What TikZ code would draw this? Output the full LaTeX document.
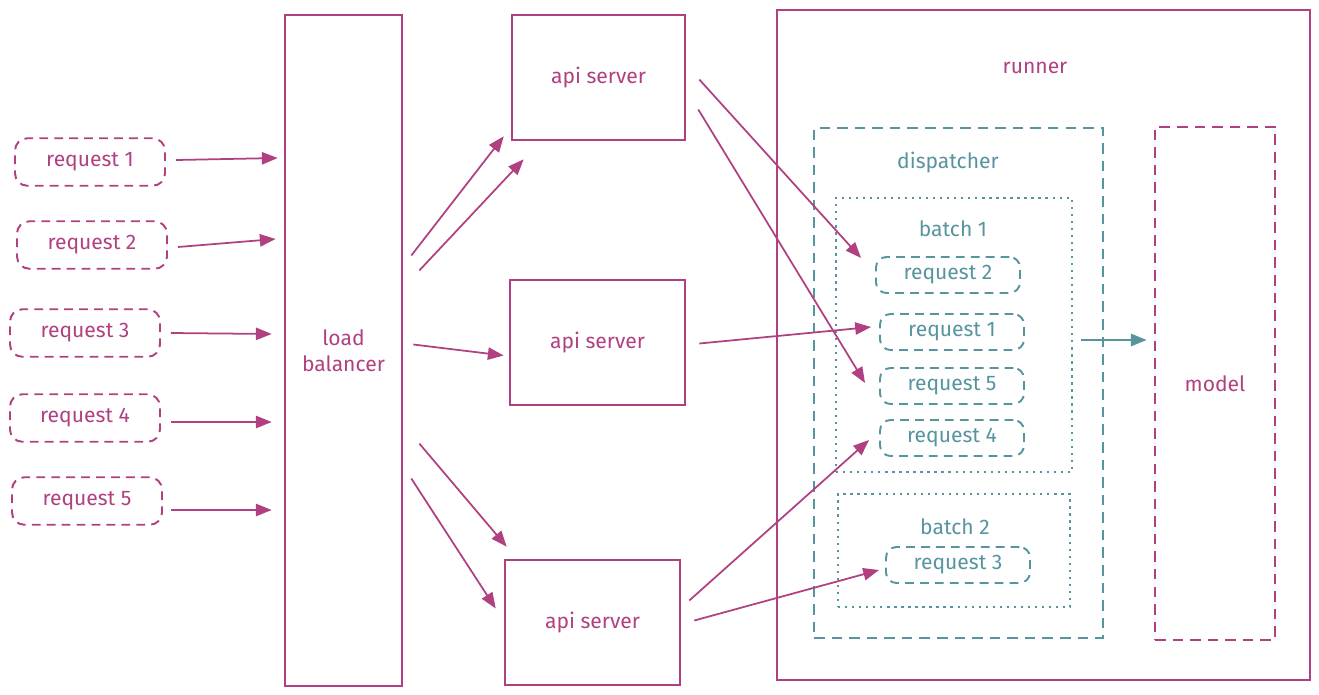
\documentclass[tikz,border=0pt]{standalone}
\usepackage{fontspec}
\setmainfont{Fira Sans}
\usetikzlibrary{calc, positioning, arrows.meta}
\definecolor{pinkline}{RGB}{176,64,128}
\definecolor{tealline}{RGB}{86,148,158}
\tikzset{
  every node/.style={font=\fontsize{12}{15}\selectfont},
  box/.style={draw=pinkline, line width=1.5pt, text=pinkline},
  reqbox/.style={draw=pinkline, line width=1.1pt, dash pattern=on 5pt off 3.5pt, rounded corners=7pt,
    text=pinkline, minimum width=3cm, minimum height=0.95cm},
  treqbox/.style={draw=tealline, line width=1.1pt, dash pattern=on 5pt off 3.5pt, rounded corners=6pt,
    text=tealline, minimum width=2.88cm, minimum height=0.72cm},
  batchbox/.style={draw=tealline, line width=1.4pt, dash pattern=on 1.3pt off 2.7pt},
  arr/.style={draw=pinkline, line width=1pt, -{Triangle[length=9pt,width=7pt]}},
  tarr/.style={draw=tealline, line width=1pt, -{Triangle[length=9pt,width=7pt]}},
}

\begin{document}
\begin{tikzpicture}[x=0.02cm, y=-0.02cm]
  \useasboundingbox (0,0) rectangle (1319,694);

  % incoming requests
  \node[reqbox] (r1) at (90,162) {request 1};
  \node[reqbox] (r2) at (92,245) {request 2};
  \node[reqbox] (r3) at (85,333) {request 3};
  \node[reqbox] (r4) at (85,418) {request 4};
  \node[reqbox] (r5) at (87,501) {request 5};

  \node[box, minimum width=2.34cm, minimum height=13.42cm, align=center] (lb) at (343.5,350.5) {load\\balancer};

  % api servers
  \node[box, minimum width=3.46cm, minimum height=2.5cm] (a1) at (598.5,77.5) {api server};
  \node[box, minimum width=3.5cm, minimum height=2.5cm] (a2) at (597.5,342.5) {api server};
  \node[box, minimum width=3.5cm, minimum height=2.5cm] (a3) at (592.5,622.5) {api server};

  % runner
  \node[box, minimum width=10.66cm, minimum height=13.4cm] (run) at (1043.5,345) {};
  \node[text=pinkline] (runtxt) at (1035,68) {runner};
  \node[draw=tealline, line width=1.5pt, dash pattern=on 6pt off 4pt, minimum width=5.78cm, minimum height=10.2cm] (disp) at (958.5,383) {};
  \node[text=tealline] (disptxt) at (948,163) {dispatcher};
  \node[batchbox, minimum width=4.72cm, minimum height=5.48cm] (b1) at (954,335) {};
  \node[text=tealline] (b1txt) at (953,229) {batch 1};
  \node[batchbox, minimum width=4.64cm, minimum height=2.26cm] (b2) at (954,550.5) {};
  \node[text=tealline] (b2txt) at (955,527) {batch 2};
  \node[treqbox] (t2) at (948,275) {request 2};
  \node[treqbox] (t1) at (952,332) {request 1};
  \node[treqbox] (t5) at (952,386) {request 5};
  \node[treqbox] (t4) at (952,438) {request 4};
  \node[treqbox] (t3) at (958,565) {request 3};
  \node[draw=pinkline, line width=1.5pt, dash pattern=on 6pt off 4pt, text=pinkline,
    minimum width=2.4cm, minimum height=10.26cm] (model) at (1215,383.5) {model};

  % requests into the load balancer
  \draw[arr] ($(r1.east)+(10,-2)$) -- ($(r1.east -| lb.west)+(-6,-4)$);
  \draw[arr] ($(r2.east)+(10,2)$) -- ($(r2.east -| lb.west)+(-8,-6)$);
  \draw[arr] ($(r3.east)+(10,0)$) -- ($(r3.east -| lb.west)+(-12,1)$);
  \draw[arr] ($(r4.east)+(10,4)$) -- ($(r4.east -| lb.west)+(-12,4)$);
  \draw[arr] ($(r5.east)+(8,9)$) -- ($(r5.east -| lb.west)+(-12,9)$);

  % load balancer to api servers
  \draw[arr] ($(lb.east)+(8,-95)$) -- ($(a1.south west)+(-7,-5)$);
  \draw[arr] ($(lb.east)+(16,-80)$) -- ($(a1.south west)+(13,18)$);
  \draw[arr] ($(lb.east)+(10,-6)$) -- ($(a2.west)+(-5,13)$);
  \draw[arr] ($(lb.east)+(16,93)$) -- ($(a3.north west)+(3,-12)$);
  \draw[arr] ($(lb.east)+(8,128)$) -- ($(a3.west)+(-8,-14)$);

  % api servers to the dispatcher
  \draw[arr] ($(a1.east)+(13,2)$) -- ($(t2.west)+(-14,-17)$);
  \draw[arr] ($(a1.east)+(12,32)$) -- ($(t5.west)+(-14,-3)$);
  \draw[arr] ($(a2.east)+(13,1)$) -- ($(t1.west)+(-8,-5)$);
  \draw[arr] ($(a3.east)+(8,-22)$) -- ($(t4.west)+(-10,2)$);
  \draw[arr] ($(a3.east)+(13,-2)$) -- ($(t3.west)+(-6,5)$);

  \draw[tarr] ($(b1.east)+(8,5)$) -- ($(b1.east -| model.west)+(-7,5)$);
\end{tikzpicture}
\end{document}
